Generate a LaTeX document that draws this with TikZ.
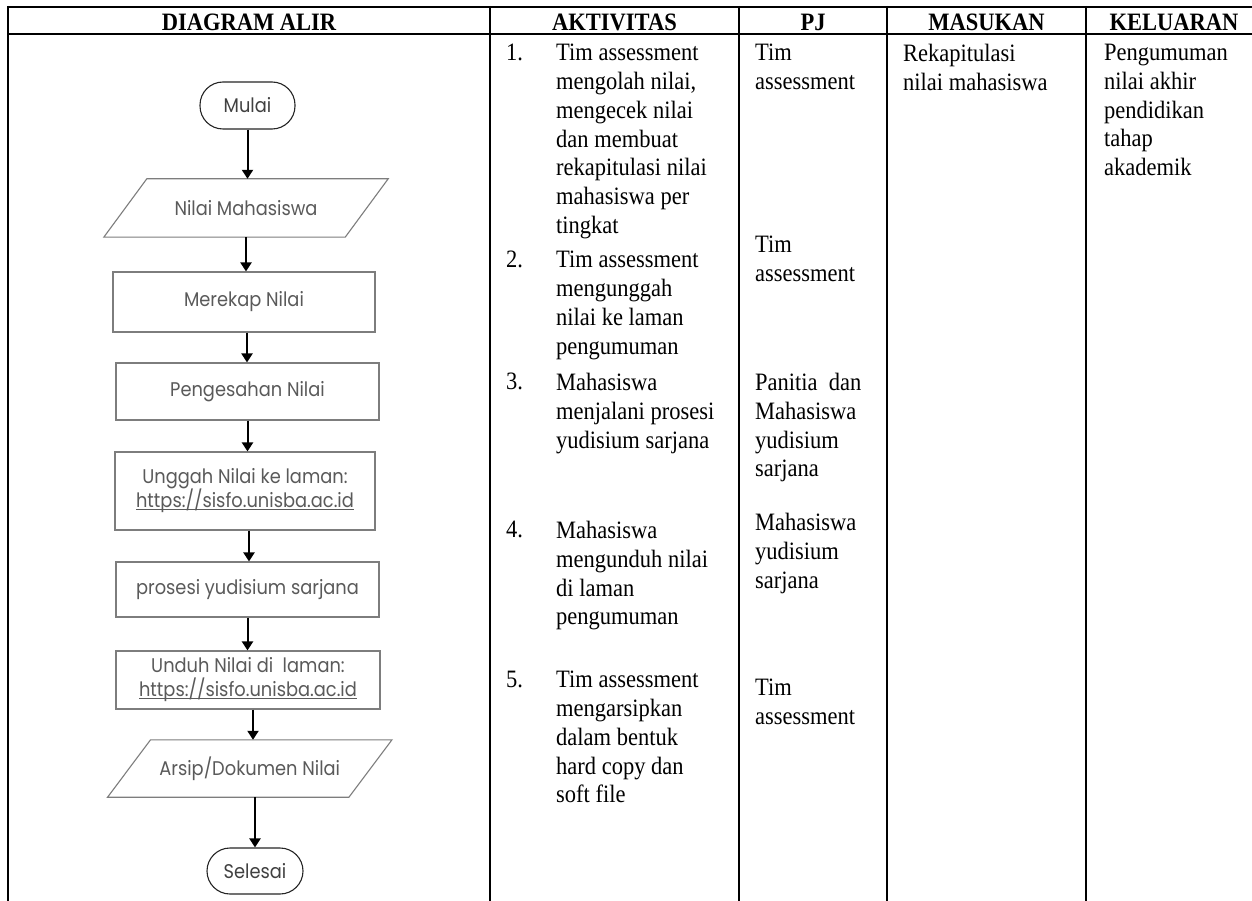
\documentclass[tikz,border=0pt]{standalone}
\usepackage{fontspec}
\setmainfont{Liberation Serif}[FakeStretch=0.9]
\newfontfamily\flowfont{Poppins}[FakeStretch=0.9]
\usetikzlibrary{arrows.meta}
\definecolor{flowtext}{RGB}{90,90,90}
\definecolor{boxline}{RGB}{125,125,125}
\newcommand\linkul[1]{\setbox0\hbox{#1}\rlap{\rule[-1.6pt]{\wd0}{0.9pt}}\box0}
\begin{document}
\begin{tikzpicture}[x=1pt,y=-1pt,
  tline/.style={line width=2pt,black},
  hdr/.style={font=\fontsize{25}{28}\selectfont\bfseries,inner sep=0pt,anchor=base},
  body/.style={font=\fontsize{25}{28.8}\selectfont,inner sep=0pt,anchor=north west,align=left},
  flowbox/.style={draw=boxline,line width=1.1pt,font=\flowfont\fontsize{19.8}{24}\selectfont,text=flowtext,align=center,inner sep=0pt},
  term/.style={draw=black!85,line width=1.1pt,rounded corners=23pt,font=\flowfont\fontsize{19.8}{24}\selectfont,text=black!75,inner sep=0pt},
  para/.style={draw=none,font=\flowfont\fontsize{19.8}{24}\selectfont,text=flowtext,inner sep=0pt},
  pline/.style={draw=boxline,line width=1.1pt},
  arr/.style={line width=2pt,black,-{Triangle[length=9pt,width=11pt]}}]
\useasboundingbox[fill=white] (0,0) rectangle (1252,901);

% table grid
\draw[tline] (7,7) -- (1252,7);
\draw[tline] (7,34) -- (1252,34);
\foreach \xx in {8,490,739,887,1086} \draw[tline] (\xx,6) -- (\xx,901);

% headers
\node[hdr] (h1) at (249,30.5) {DIAGRAM ALIR};
\node[hdr] (h2) at (614.5,30.5) {AKTIVITAS};
\node[hdr] (h3) at (813,30.5) {PJ};
\node[hdr] (h4) at (986.5,30.5) {MASUKAN};
\node[hdr] (h5) at (1174,30.5) {KELUARAN};

% aktivitas
\node[body] (n1) at (506,44) {1.};
\node[body] (t1) at (556,44) {Tim assessment\\mengolah nilai,\\mengecek nilai\\dan membuat\\rekapitulasi nilai\\mahasiswa per\\tingkat};
\node[body] (n2) at (506,251) {2.};
\node[body] (t2) at (556,251) {Tim assessment\\mengunggah\\nilai ke laman\\pengumuman};
\node[body] (n3) at (506,373) {3.};
\node[body] (t3) at (556,373) {Mahasiswa\\menjalani prosesi\\yudisium sarjana};
\node[body] (n4) at (506,521) {4.};
\node[body] (t4) at (556,521) {Mahasiswa\\mengunduh nilai\\di laman\\pengumuman};
\node[body] (n5) at (506,671) {5.};
\node[body] (t5) at (556,671) {Tim assessment\\mengarsipkan\\dalam bentuk\\hard copy dan\\soft file};

% pj
\node[body] (pj1) at (755,44) {Tim\\assessment};
\node[body] (pj2) at (755,236) {Tim\\assessment};
\node[body] (pj3) at (755,373) {Panitia\ \ dan\\Mahasiswa\\yudisium\\sarjana};
\node[body] (pj4) at (755,513) {Mahasiswa\\yudisium\\sarjana};
\node[body] (pj5) at (755,679) {Tim\\assessment};

% masukan / keluaran
\node[body] (in1) at (903,44) {Rekapitulasi\\nilai mahasiswa};
\node[body] (out1) at (1104,44) {Pengumuman\\nilai akhir\\pendidikan\\tahap\\akademik};

% flowchart
\node[term,minimum width=95pt,minimum height=47pt] (start) at (247.5,105.5) {Mulai};
\node[para,minimum width=241pt,minimum height=58pt] (inp) at (246,208) {Nilai Mahasiswa};
\draw[pline] ([xshift=21.5pt]inp.north west) -- ([xshift=21.5pt]inp.north east) -- ([xshift=-21.5pt]inp.south east) -- ([xshift=-21.5pt]inp.south west) -- cycle;
\node[flowbox,minimum width=262pt,minimum height=60pt] (rek) at (244,302) {Merekap Nilai};
\node[flowbox,minimum width=263pt,minimum height=57pt] (sah) at (247.5,391.5) {Pengesahan Nilai};
\node[flowbox,minimum width=260pt,minimum height=78pt] (ung) at (245,491) {Unggah Nilai ke laman:\\\linkul{https://sisfo.unisba.ac.id}};
\node[flowbox,minimum width=263pt,minimum height=55pt] (yud) at (247.5,589.5) {prosesi yudisium sarjana};
\node[flowbox,minimum width=264pt,minimum height=58pt] (und) at (248,680) {Unduh Nilai di\ \ laman:\\\linkul{https://sisfo.unisba.ac.id}};
\node[para,minimum width=241pt,minimum height=57pt] (arsip) at (249.75,768.5) {Arsip/Dokumen Nilai};
\draw[pline] ([xshift=21.5pt]arsip.north west) -- ([xshift=21.5pt]arsip.north east) -- ([xshift=-21.5pt]arsip.south east) -- ([xshift=-21.5pt]arsip.south west) -- cycle;
\node[term,minimum width=96pt,minimum height=46pt] (end) at (255,871) {Selesai};

% arrows
\draw[arr] (start.south) -- (start.south |- inp.north);
\draw[arr] (inp.south) -- (inp.south |- rek.north);
\draw[arr] ([xshift=3pt]rek.south) -- ([xshift=3pt]rek.south |- sah.north);
\draw[arr] (sah.south) -- (sah.south |- ung.north);
\draw[arr] ([xshift=4pt]ung.south) -- ([xshift=4pt]ung.south |- yud.north);
\draw[arr] (yud.south) -- (yud.south |- und.north);
\draw[arr] ([xshift=5pt]und.south) -- ([xshift=5pt]und.south |- arsip.north);
\draw[arr] (end.north |- arsip.south) -- (end.north);
\end{tikzpicture}
\end{document}
